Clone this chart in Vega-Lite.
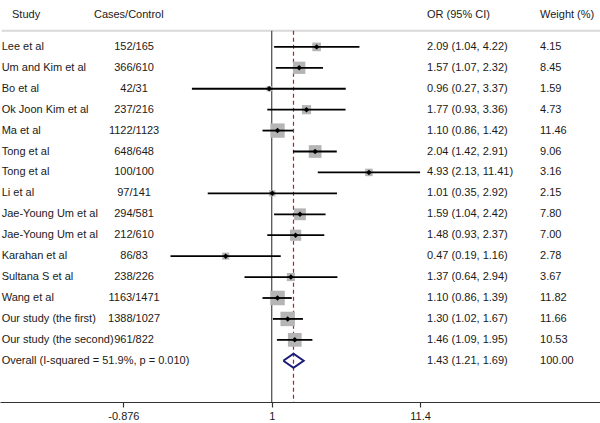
{
  "$schema": "https://vega.github.io/schema/vega-lite/v6.json",
  "width": 600,
  "height": 402,
  "padding": 0,
  "config": {"view": {"stroke": null}, "font": "Liberation Sans", "text": {"font": "Liberation Sans", "fontSize": 11, "color": "#1a1a1a"}},
  "datasets": {
    "rows": [
      {"study": "Lee et al", "cc": "152/165", "or": 2.09, "lo": 1.04, "hi": 4.22, "w": 4.15, "ci": "2.09 (1.04, 4.22)", "wt": "4.15", "row": 1, "type": "study"},
      {"study": "Um and Kim et al", "cc": "366/610", "or": 1.57, "lo": 1.07, "hi": 2.32, "w": 8.45, "ci": "1.57 (1.07, 2.32)", "wt": "8.45", "row": 2, "type": "study"},
      {"study": "Bo et al", "cc": "42/31", "or": 0.96, "lo": 0.27, "hi": 3.37, "w": 1.59, "ci": "0.96 (0.27, 3.37)", "wt": "1.59", "row": 3, "type": "study"},
      {"study": "Ok Joon Kim et al", "cc": "237/216", "or": 1.77, "lo": 0.93, "hi": 3.36, "w": 4.73, "ci": "1.77 (0.93, 3.36)", "wt": "4.73", "row": 4, "type": "study"},
      {"study": "Ma et al", "cc": "1122/1123", "or": 1.10, "lo": 0.86, "hi": 1.42, "w": 11.46, "ci": "1.10 (0.86, 1.42)", "wt": "11.46", "row": 5, "type": "study"},
      {"study": "Tong et al", "cc": "648/648", "or": 2.04, "lo": 1.42, "hi": 2.91, "w": 9.06, "ci": "2.04 (1.42, 2.91)", "wt": "9.06", "row": 6, "type": "study"},
      {"study": "Tong et al", "cc": "100/100", "or": 4.93, "lo": 2.13, "hi": 11.41, "w": 3.16, "ci": "4.93 (2.13, 11.41)", "wt": "3.16", "row": 7, "type": "study"},
      {"study": "Li et al", "cc": "97/141", "or": 1.01, "lo": 0.35, "hi": 2.92, "w": 2.15, "ci": "1.01 (0.35, 2.92)", "wt": "2.15", "row": 8, "type": "study"},
      {"study": "Jae-Young Um et al", "cc": "294/581", "or": 1.59, "lo": 1.04, "hi": 2.42, "w": 7.80, "ci": "1.59 (1.04, 2.42)", "wt": "7.80", "row": 9, "type": "study"},
      {"study": "Jae-Young Um et al", "cc": "212/610", "or": 1.48, "lo": 0.93, "hi": 2.37, "w": 7.00, "ci": "1.48 (0.93, 2.37)", "wt": "7.00", "row": 10, "type": "study"},
      {"study": "Karahan et al", "cc": "86/83", "or": 0.47, "lo": 0.19, "hi": 1.16, "w": 2.78, "ci": "0.47 (0.19, 1.16)", "wt": "2.78", "row": 11, "type": "study"},
      {"study": "Sultana S et al", "cc": "238/226", "or": 1.37, "lo": 0.64, "hi": 2.94, "w": 3.67, "ci": "1.37 (0.64, 2.94)", "wt": "3.67", "row": 12, "type": "study"},
      {"study": "Wang et al", "cc": "1163/1471", "or": 1.10, "lo": 0.86, "hi": 1.39, "w": 11.82, "ci": "1.10 (0.86, 1.39)", "wt": "11.82", "row": 13, "type": "study"},
      {"study": "Our study (the first)", "cc": "1388/1027", "or": 1.30, "lo": 1.02, "hi": 1.67, "w": 11.66, "ci": "1.30 (1.02, 1.67)", "wt": "11.66", "row": 14, "type": "study"},
      {"study": "Our study (the second)", "cc": "961/822", "or": 1.46, "lo": 1.09, "hi": 1.95, "w": 10.53, "ci": "1.46 (1.09, 1.95)", "wt": "10.53", "row": 15, "type": "study"},
      {"study": "Overall  (I-squared = 51.9%, p = 0.010)", "cc": "", "or": 1.43, "lo": 1.21, "hi": 1.69, "w": 100.00, "ci": "1.43 (1.21, 1.69)", "wt": "100.00", "row": 16, "type": "overall"}
    ],
    "diamond": [
      {"x": 1.21, "y": 16, "k": 1},
      {"x": 1.43, "y": 15.66, "k": 2},
      {"x": 1.69, "y": 16, "k": 3},
      {"x": 1.43, "y": 16.34, "k": 4},
      {"x": 1.21, "y": 16, "k": 5}
    ]
  },
  "layer": [
    {
      "data": {"values": [{}]},
      "mark": {"type": "rule", "color": "#d9d9d9", "strokeWidth": 2},
      "encoding": {
        "x": {"datum": 0.0119, "type": "quantitative", "scale": {"type": "log", "domain": [0.01158, 218.6], "nice": false},
          "axis": {"values": [0.0877, 1, 11.4], "labelExpr": "datum.value < 0.5 ? '-0.876' : (datum.value > 5 ? '11.4' : '1')", "title": null, "grid": false, "domainColor": "#333333", "domainWidth": 1.2, "tickColor": "#333333", "tickSize": 5, "tickWidth": 1.2, "labelFontSize": 11, "labelColor": "#1a1a1a", "labelFont": "Liberation Sans", "labelPadding": 3, "labelFlush": false, "labelOverlap": false}},
        "x2": {"datum": 218.6},
        "y": {"datum": 0.235, "type": "quantitative", "scale": {"domain": [-1.24, 17.97], "nice": false, "zero": false, "reverse": true}, "axis": null}
      }
    },
    {
      "data": {"values": [{}]},
      "mark": {"type": "rule", "color": "#555555", "strokeWidth": 1.3},
      "encoding": {
        "x": {"datum": 1, "type": "quantitative"},
        "y": {"datum": 0.235, "type": "quantitative", "axis": null},
        "y2": {"datum": 17.97}
      }
    },
    {
      "data": {"values": [{}]},
      "mark": {"type": "rule", "color": "#b22222", "strokeWidth": 1.2, "strokeDash": [4, 3]},
      "encoding": {
        "x": {"datum": 1.43, "type": "quantitative"},
        "y": {"datum": 0.235, "type": "quantitative", "axis": null},
        "y2": {"datum": 17.97}
      }
    },
    {
      "data": {"name": "rows"},
      "transform": [{"filter": "datum.type === 'study'"}],
      "mark": {"type": "square", "color": "#b5b5b5", "opacity": 1, "filled": true},
      "encoding": {
        "x": {"field": "or", "type": "quantitative"},
        "y": {"field": "row", "type": "quantitative", "axis": null},
        "size": {"field": "w", "type": "quantitative", "scale": {"domain": [0, 12], "range": [0, 215]}, "legend": null}
      }
    },
    {
      "data": {"name": "rows"},
      "transform": [{"filter": "datum.type === 'study'"}],
      "mark": {"type": "rule", "color": "#000000", "strokeWidth": 1.8},
      "encoding": {
        "x": {"field": "lo", "type": "quantitative"},
        "x2": {"field": "hi"},
        "y": {"field": "row", "type": "quantitative", "axis": null}
      }
    },
    {
      "data": {"name": "rows"},
      "transform": [{"filter": "datum.type === 'study'"}],
      "mark": {"type": "point", "shape": "diamond", "filled": true, "color": "#000000", "size": 30, "opacity": 1},
      "encoding": {
        "x": {"field": "or", "type": "quantitative"},
        "y": {"field": "row", "type": "quantitative", "axis": null}
      }
    },
    {
      "data": {"name": "diamond"},
      "mark": {"type": "line", "color": "#1c1c78", "strokeWidth": 2},
      "encoding": {
        "x": {"field": "x", "type": "quantitative"},
        "y": {"field": "y", "type": "quantitative", "axis": null},
        "order": {"field": "k"}
      }
    },
    {
      "data": {"name": "rows"},
      "mark": {"type": "text", "align": "left", "baseline": "middle"},
      "encoding": {
        "x": {"datum": 0.0119, "type": "quantitative"},
        "y": {"field": "row", "type": "quantitative", "axis": null},
        "text": {"field": "study"}
      }
    },
    {
      "data": {"name": "rows"},
      "mark": {"type": "text", "align": "center", "baseline": "middle"},
      "encoding": {
        "x": {"datum": 0.1045, "type": "quantitative"},
        "y": {"field": "row", "type": "quantitative", "axis": null},
        "text": {"field": "cc"}
      }
    },
    {
      "data": {"name": "rows"},
      "mark": {"type": "text", "align": "left", "baseline": "middle"},
      "encoding": {
        "x": {"datum": 12.79, "type": "quantitative"},
        "y": {"field": "row", "type": "quantitative", "axis": null},
        "text": {"field": "ci"}
      }
    },
    {
      "data": {"name": "rows"},
      "mark": {"type": "text", "align": "left", "baseline": "middle"},
      "encoding": {
        "x": {"datum": 81.7, "type": "quantitative"},
        "y": {"field": "row", "type": "quantitative", "axis": null},
        "text": {"field": "wt"}
      }
    },
    {
      "data": {"values": [{"label": "Study"}]},
      "mark": {"type": "text", "align": "left", "baseline": "middle"},
      "encoding": {
        "x": {"datum": 0.0141, "type": "quantitative"},
        "y": {"datum": -0.53, "type": "quantitative", "axis": null},
        "text": {"field": "label"}
      }
    },
    {
      "data": {"values": [{"label": "Cases/Control"}]},
      "mark": {"type": "text", "align": "left", "baseline": "middle"},
      "encoding": {
        "x": {"datum": 0.0541, "type": "quantitative"},
        "y": {"datum": -0.53, "type": "quantitative", "axis": null},
        "text": {"field": "label"}
      }
    },
    {
      "data": {"values": [{"label": "OR (95% CI)"}]},
      "mark": {"type": "text", "align": "left", "baseline": "middle"},
      "encoding": {
        "x": {"datum": 12.79, "type": "quantitative"},
        "y": {"datum": -0.53, "type": "quantitative", "axis": null},
        "text": {"field": "label"}
      }
    },
    {
      "data": {"values": [{"label": "Weight (%)"}]},
      "mark": {"type": "text", "align": "left", "baseline": "middle"},
      "encoding": {
        "x": {"datum": 81.7, "type": "quantitative"},
        "y": {"datum": -0.53, "type": "quantitative", "axis": null},
        "text": {"field": "label"}
      }
    }
  ]
}
